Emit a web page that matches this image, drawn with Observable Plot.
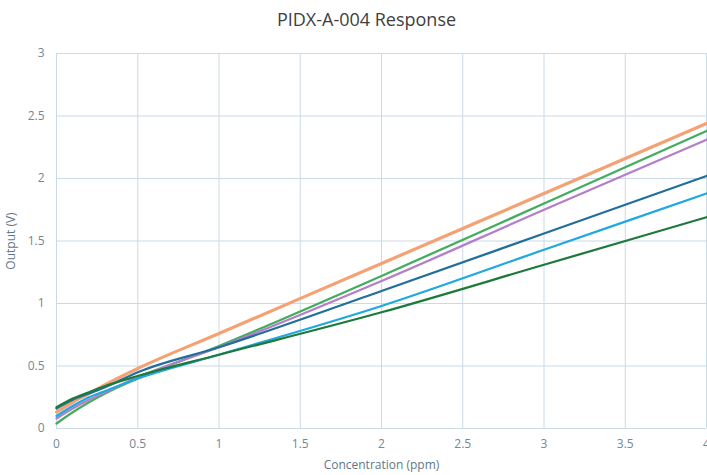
<!DOCTYPE html>
<html><head><meta charset="utf-8">
<script src="https://cdn.jsdelivr.net/npm/d3@7"></script>
<script src="https://cdn.jsdelivr.net/npm/@observablehq/plot@0.6"></script>
<style>
body{margin:0;background:#fff;}
#wrap{width:707px;position:relative;font-family:"Open Sans",sans-serif;}
#title{height:36px;line-height:38px;font-size:18px;color:#404040;text-align:center;padding-left:26px;white-space:nowrap;}
</style></head><body>
<div id="wrap"><div id="title">PIDX-A-004 Response</div><div id="chart"></div></div>
<script>
const concentration = [0, 0.1, 0.2, 0.3, 0.5, 1, 2, 3, 4];
const seriesNames = ["S1", "S2", "S3", "S4", "S5", "S6"];
const seriesColors = ["#f4a274", "#43ad5f", "#b47fc9", "#236f9c", "#21a8df", "#1e7a3c"];
const seriesWidths = [3.2, 2.3, 2.3, 2.3, 2.3, 2.3];
const s1 = [0.13, 0.21, 0.28, 0.35, 0.48, 0.76, 1.32, 1.88, 2.44];
const s2 = [0.04, 0.13, 0.21, 0.28, 0.40, 0.66, 1.22, 1.80, 2.38];
const s3 = [0.08, 0.16, 0.23, 0.29, 0.41, 0.65, 1.18, 1.75, 2.31];
const s4 = [0.16, 0.23, 0.28, 0.33, 0.45, 0.65, 1.10, 1.56, 2.02];
const s5 = [0.10, 0.18, 0.25, 0.30, 0.40, 0.59, 0.98, 1.43, 1.88];
const s6 = [0.17, 0.24, 0.29, 0.34, 0.42, 0.59, 0.93, 1.31, 1.69];
const xTicks = [0, 0.5, 1, 1.5, 2, 2.5, 3, 3.5, 4];
const yTicks = [0, 0.5, 1, 1.5, 2, 2.5, 3];

const allSeries = [s1, s2, s3, s4, s5, s6];
const data = allSeries.flatMap((vals, i) => vals.map((v, j) => ({series: seriesNames[i], x: concentration[j], y: v})));
const gridColor = "#cadbe7";
const tickColor = "#748796";

const lines = seriesNames.map((name, i) => Plot.line(data.filter(d => d.series === name), {
  x: "x", y: "y", stroke: seriesColors[i], strokeWidth: seriesWidths[i], curve: "monotone-x"
}));

const chart = Plot.plot({
  width: 707,
  height: 439,
  marginTop: 17,
  marginBottom: 47,
  marginLeft: 56,
  marginRight: 1,
  style: {fontFamily: "Open Sans, sans-serif", fontSize: "12px", color: tickColor, background: "#fff"},
  x: {domain: [0, 4]},
  y: {domain: [0, 3]},
  marks: [
    Plot.gridX(xTicks, {stroke: gridColor, strokeOpacity: 1}),
    Plot.gridY(yTicks, {stroke: gridColor, strokeOpacity: 1}),
    Plot.axisX({ticks: xTicks, tickSize: 0, tickPadding: 11, tickFormat: d => String(d), label: null, fill: tickColor}),
    Plot.axisY({ticks: yTicks, tickSize: 0, tickPadding: 12, tickFormat: d => String(d), label: null, fill: tickColor}),
    Plot.axisX({ticks: [], tickSize: 0, label: "Concentration (ppm)", labelAnchor: "center", labelArrow: "none", labelOffset: 40, fill: "#5f7889"}),
    Plot.axisY({ticks: [], tickSize: 0, label: "Output (V)", labelAnchor: "center", labelArrow: "none", labelOffset: 50, fill: "#5f7889"}),
    ...lines
  ]
});
document.getElementById("chart").appendChild(chart);
</script>
</body></html>
